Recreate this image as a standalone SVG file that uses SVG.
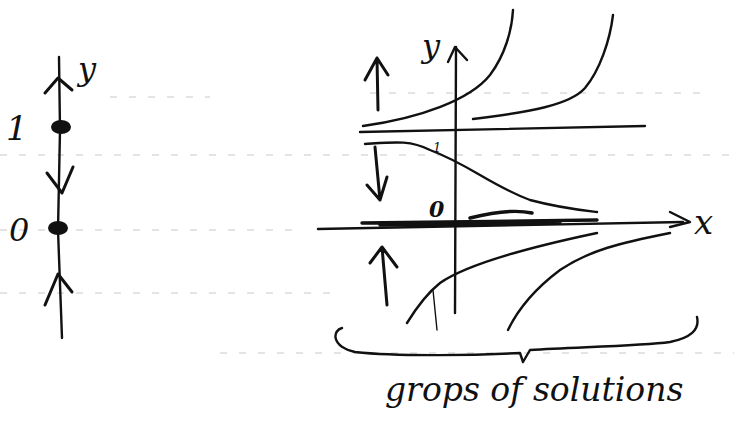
<svg xmlns="http://www.w3.org/2000/svg" width="734" height="425" viewBox="0 0 734 425">
<style>
.s{fill:none;stroke:#111;stroke-width:2.4;stroke-linecap:round;stroke-linejoin:round}
.a{fill:none;stroke:#111;stroke-width:3;stroke-linecap:round;stroke-linejoin:round}
.t{fill:none;stroke:#111;stroke-width:1.4;stroke-linecap:round}
.b{fill:none;stroke:#111;stroke-width:3.4;stroke-linecap:round}
.p{fill:none;stroke:#c8c8c8;stroke-width:1;stroke-dasharray:7 12}
.h{font-family:"DejaVu Serif","Liberation Serif",serif;font-style:italic;fill:#111}
</style>
<rect width="734" height="425" fill="#fff"/>
<g id="paper">
<path class="p" d="M110 97H210M370 93H700M0 155H734M0 230H300M0 293H330M220 353H734"/>
</g>
<g id="phase-line">
<path class="s" d="M59 57 L60 130 L58 230 L62 338"/>
<path class="a" d="M45 93 L58 78 L72 90"/>
<path class="a" d="M47 173 L62 193 L73 167"/>
<path class="a" d="M45 305 L58 274 L72 292"/>
<ellipse cx="61" cy="127" rx="10" ry="7" fill="#111"/>
<ellipse cx="58" cy="228" rx="10" ry="7" fill="#111"/>
<text class="h" x="78" y="80" font-size="32">y</text>
<text class="h" x="6" y="140" font-size="34">1</text>
<text class="h" x="9" y="241" font-size="32">0</text>
</g>
<g id="solution-plot">
<path class="s" d="M455 313 L456 47"/>
<path class="s" d="M448 62 L455 47 L467 60"/>
<path class="s" d="M318 229 L683 222"/>
<path class="s" d="M670 212 L690 222 L670 227"/>
<path class="s" d="M360 132 L645 126"/>
<path class="b" d="M362 223 L597 220 M380 225 L560 223 M470 218 Q510 208 532 213"/>
<path class="s" d="M363 126 C420 118 470 100 490 75 C505 55 512 30 513 10"/>
<path class="s" d="M473 119 C530 112 570 105 585 88 C600 70 610 40 613 15"/>
<path class="s" d="M365 144 C395 142 410 140 430 150 C470 165 490 185 530 200 C560 208 580 210 597 212"/>
<path class="s" d="M597 233 C540 245 470 262 440 283 C425 295 415 310 407 323"/>
<path class="s" d="M670 233 C620 243 590 250 560 270 C540 285 520 305 508 330"/>
<path class="t" d="M433 290 L437 330"/>
<path class="a" d="M377 58 L378 110 M365 80 L377 58 L388 75"/>
<path class="a" d="M375 147 L380 200 M367 185 L380 200 L387 177"/>
<path class="a" d="M382 247 L387 305 M370 263 L382 247 L397 267"/>
<text class="h" x="422" y="57" font-size="32">y</text>
<text class="h" x="433" y="152" font-size="13">1</text>
<text class="h" x="429" y="217" font-size="22" font-weight="bold">0</text>
<text class="h" x="694" y="234" font-size="34">x</text>
</g>
<g id="brace">
<path class="s" d="M342 328 C333 330 330 346 355 352 C400 357 480 355 520 353 L523 362 L530 350 C580 347 640 346 670 342 C690 338 700 330 697 317"/>
<text class="h" x="385" y="401" font-size="33">grops of solutions</text>
</g>
</svg>
